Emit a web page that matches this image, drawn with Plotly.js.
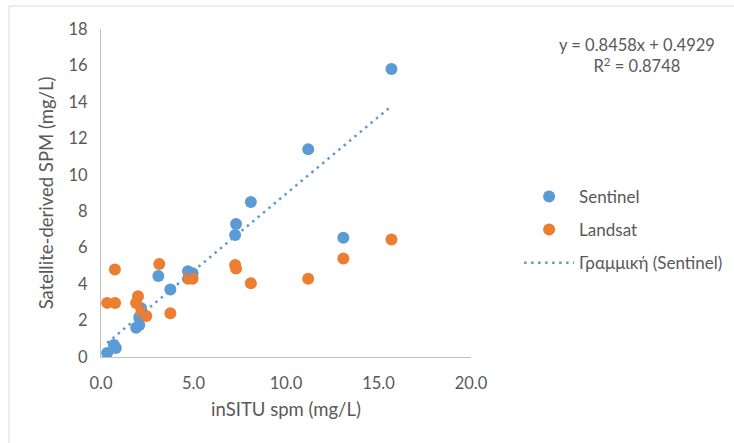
<!DOCTYPE html>
<html>
<head>
<meta charset="utf-8">
<script src="https://cdn.plot.ly/plotly-3.0.1.min.js"></script>
<style>html,body{margin:0;padding:0;background:#fff;}#chart{width:734px;height:443px;}</style>
</head>
<body>
<div id="chart"></div>
<script>
// In-situ SPM (mg/L) and satellite-derived SPM (mg/L)
var sentinelX = [15.7, 11.2, 8.1, 7.3, 7.25, 13.1, 3.1, 4.7, 4.95, 3.75, 2.17, 2.07, 2.07, 1.9, 0.7, 0.8, 0.33];
var sentinelY = [15.8, 11.4, 8.5, 7.3, 6.7, 6.55, 4.45, 4.7, 4.6, 3.7, 2.68, 2.2, 1.75, 1.6, 0.66, 0.5, 0.22];
var landsatX = [15.7, 13.1, 11.2, 8.1, 7.25, 7.3, 4.7, 4.95, 3.15, 3.75, 0.75, 0.33, 0.76, 1.9, 2.0, 2.2, 2.45];
var landsatY = [6.45, 5.4, 4.3, 4.05, 5.05, 4.85, 4.3, 4.3, 5.1, 2.4, 4.8, 2.97, 2.96, 2.96, 3.34, 2.47, 2.25];
// Linear trendline (Sentinel) as printed on the chart
var trendSlope = 0.8458;
var trendIntercept = 0.4929;
var trendR2 = 0.8748;
var seriesNames = ['Sentinel', 'Landsat', 'Γραμμική (Sentinel)'];
var xTickVals = [0, 5, 10, 15, 20];
var xTickText = ['0.0', '5.0', '10.0', '15.0', '20.0'];
var yTickVals = [0, 2, 4, 6, 8, 10, 12, 14, 16, 18];

var xMin = Math.min.apply(null, sentinelX);
var xMax = Math.max.apply(null, sentinelX);
var trendX = [xMin, xMax];
var trendY = trendX.map(function (x) { return trendSlope * x + trendIntercept; });

var FONT = 'Lato, "Open Sans", sans-serif';
var GREY = '#595959';

var traces = [
  {x: sentinelX, y: sentinelY, type: 'scatter', mode: 'markers', name: seriesNames[0],
   legendgroup: 'a', marker: {color: '#5B9BD5', size: 12}},
  {x: landsatX, y: landsatY, type: 'scatter', mode: 'markers', name: seriesNames[1],
   legendgroup: 'b', marker: {color: '#ED7D31', size: 12}},
  {x: trendX, y: trendY, type: 'scatter', mode: 'lines', name: seriesNames[2],
   legendgroup: 'c', line: {color: '#5B9BD5', width: 2.5, dash: '2.5px,4.5px'}}
];

var layout = {
  width: 734, height: 443,
  margin: {l: 101, r: 263, t: 29, b: 86, autoexpand: false},
  paper_bgcolor: '#ffffff', plot_bgcolor: '#ffffff',
  font: {family: FONT, size: 16, color: GREY},
  showlegend: true,
  legend: {x: 1.13, y: 0.543, xanchor: 'left', yanchor: 'top',
           font: {family: FONT, size: 17, color: GREY},
           traceorder: 'grouped', tracegroupgap: 8, itemwidth: 50, bgcolor: 'rgba(0,0,0,0)'},
  xaxis: {range: [0, 20], tickvals: xTickVals, ticktext: xTickText, showgrid: false, zeroline: false,
          showline: true, linecolor: '#bfbfbf', linewidth: 1, ticks: '', ticklabelstandoff: 11,
          tickfont: {family: FONT, size: 16.5, color: GREY},
          title: {text: 'inSITU spm (mg/L)', font: {family: FONT, size: 18.5, color: GREY}, standoff: 11}},
  yaxis: {range: [0, 18], tickvals: yTickVals, showgrid: false, zeroline: false,
          showline: true, linecolor: '#bfbfbf', linewidth: 1, ticks: '', ticklabelstandoff: 9,
          tickfont: {family: FONT, size: 16.5, color: GREY},
          title: {text: 'Satellite-derived SPM (mg/L)', font: {family: FONT, size: 18.5, color: GREY}, standoff: 10}},
  annotations: [
    {xref: 'paper', yref: 'paper', x: 1.449, y: 0.987, xanchor: 'center', yanchor: 'top', showarrow: false,
     align: 'center', font: {family: FONT, size: 16.5, color: GREY},
     text: 'y = ' + trendSlope.toFixed(4) + 'x + ' + trendIntercept.toFixed(4) +
           '<br>R<sup>2</sup> = ' + trendR2.toFixed(4)}
  ],
  shapes: [
    {type: 'rect', xref: 'paper', yref: 'paper', x0: -0.2486, x1: 3, y0: -2, y1: 1.0701,
     line: {color: '#d9d9d9', width: 1}, fillcolor: 'rgba(0,0,0,0)', layer: 'below'}
  ]
};

Plotly.newPlot('chart', traces, layout, {displayModeBar: false, staticPlot: true});
</script>
</body>
</html>
